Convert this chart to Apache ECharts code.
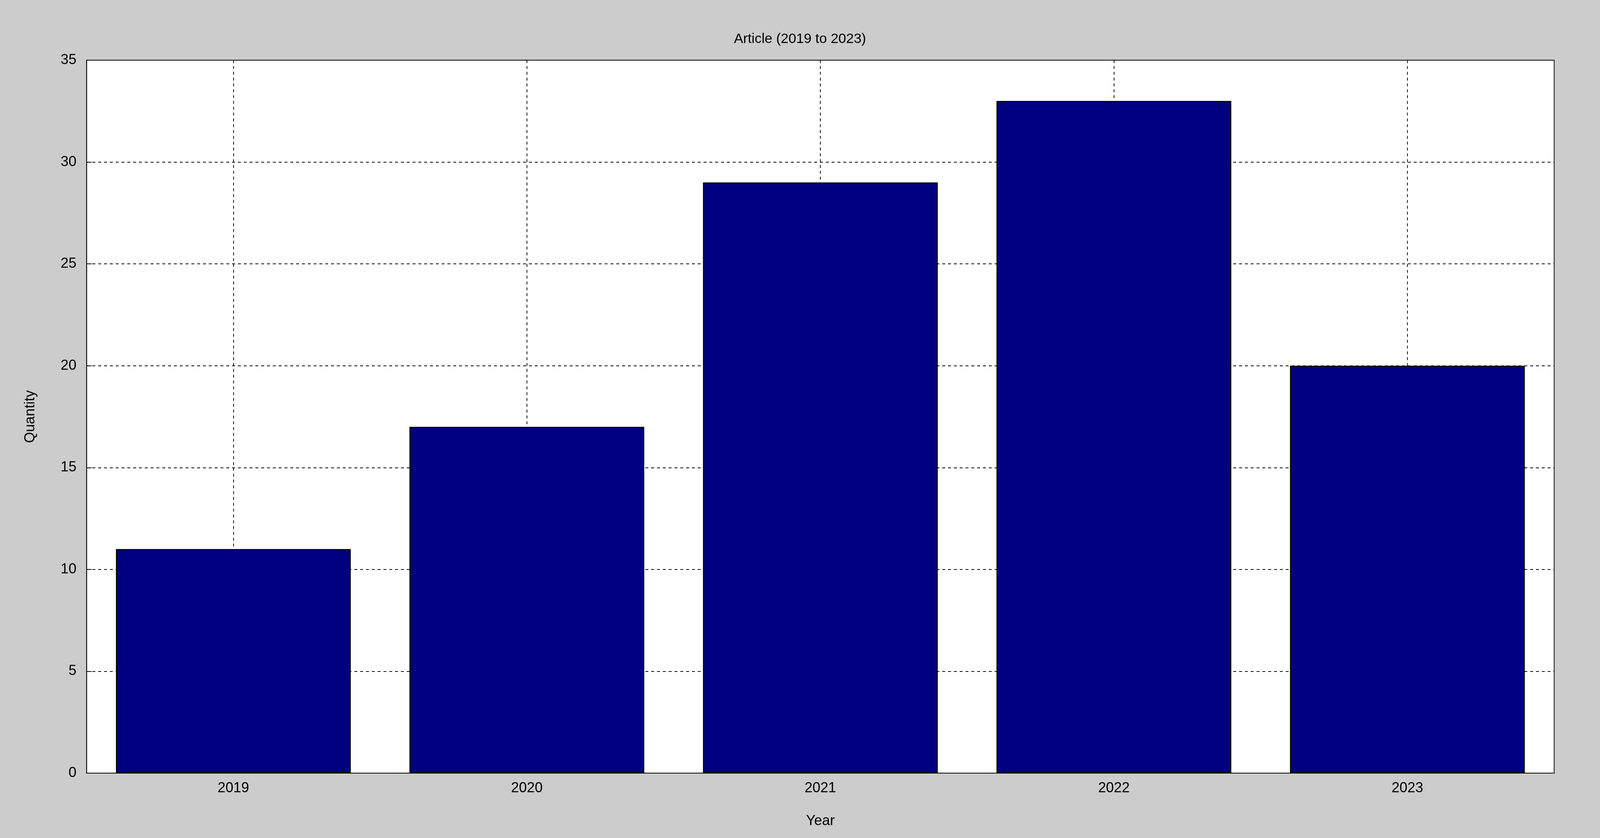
<!DOCTYPE html>
<html><head><meta charset="utf-8">
<script src="https://cdn.jsdelivr.net/npm/echarts@6/dist/echarts.min.js"></script>
<style>html,body{margin:0;padding:0;background:#cccccc;overflow:hidden}#c{width:100vw;height:100vh}</style>
</head><body><div id="c"></div>
<script>
const categories = ['2019','2020','2021','2022','2023'];
const quantities = [11, 17, 29, 33, 20];
const yTicks = [0,5,10,15,20,25,30,35];
const halfSteps = [];
for (let i = 0; i < categories.length * 2 + 1; i++) halfSteps.push(String(i));
const F = 'Liberation Sans, Arial, sans-serif';
const el = document.getElementById('c');
const chart = echarts.init(el);
const s = chart.getWidth() / 4398;
const sh = chart.getHeight() / 2144;
chart.setOption({
  backgroundColor: '#cccccc',
  animation: false,
  title: { text: 'Article (2019 to 2023)', left: 'center', top: 78 * sh,
    textStyle: { fontFamily: F, fontSize: 38 * s, fontWeight: 'normal', color: '#000' } },
  grid: { left: 238 * s, right: 126 * s, top: 154 * sh, bottom: 166 * sh, show: true,
    backgroundColor: '#ffffff', borderColor: '#000', borderWidth: 2 * s },
  xAxis: [{
    type: 'category', data: categories, boundaryGap: true,
    name: 'Year', nameLocation: 'middle', nameGap: 105 * sh,
    nameTextStyle: { fontFamily: F, fontSize: 39 * s, color: '#000' },
    axisLine: { lineStyle: { color: '#000', width: 2 * s } },
    axisTick: { show: true, alignWithLabel: true, inside: true, length: 14 * s, lineStyle: { color: '#000', width: 2 * s } },
    axisLabel: { fontFamily: F, fontSize: 39 * s, color: '#000', margin: 22 * s },
    splitLine: { show: false }
  }, {
    type: 'category', data: halfSteps, boundaryGap: false, position: 'bottom',
    axisLine: { show: false }, axisTick: { show: false }, axisLabel: { show: false },
    splitLine: { show: true, interval: (i) => i % 2 === 1,
      lineStyle: { color: '#000', type: [8 * s, 8 * s], width: 2 * s } }
  }],
  yAxis: {
    type: 'value', min: yTicks[0], max: yTicks[yTicks.length-1], interval: 5,
    name: 'Quantity', nameLocation: 'middle', nameGap: 135 * s, nameRotate: 90,
    nameTextStyle: { fontFamily: F, fontSize: 39 * s, color: '#000' },
    axisLine: { show: true, lineStyle: { color: '#000', width: 2 * s } },
    axisTick: { show: true, inside: true, length: 14 * s, lineStyle: { color: '#000', width: 2 * s } },
    axisLabel: { fontFamily: F, fontSize: 39 * s, color: '#000', margin: 28 * s },
    splitLine: { show: true, lineStyle: { color: '#000', type: [8 * s, 8 * s], width: 2 * s } }
  },
  series: [{
    type: 'bar', data: quantities, xAxisIndex: 0, barWidth: '80%',
    itemStyle: { color: '#000080', borderColor: '#000', borderWidth: 3 * s }
  }]
});
</script></body></html>
